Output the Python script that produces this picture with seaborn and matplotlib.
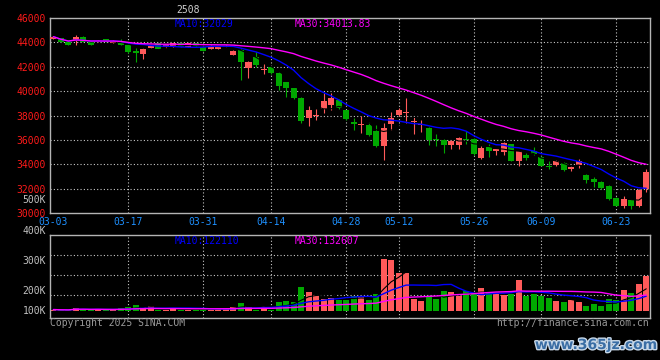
"""
2508 daily K-line (Sina style): candles + MA lines, volume panel below.
"""
import numpy as np
import pandas as pd
import matplotlib
matplotlib.use("Agg")
import matplotlib.pyplot as plt
import matplotlib.patheffects as pe
import seaborn as sns

# OHLC, 80 trading days 2025-03-03 .. 2025-06-27
opens = [44310, 44370, 44040, 44150, 44470, 44040, 44040, 44260, 43980, 44040,
         43770, 43280, 43060, 43560, 43930, 43610, 43650, 43930, 43650, 43930,
         43650, 43490, 43490, 43610, 43000, 43390, 41920, 42840, 41700, 42020,
         41480, 40710, 40220, 39460, 37770, 37940, 38540, 38870, 39300, 38430,
         37500, 37230, 37230, 36690, 35490, 37340, 38050, 38210, 37450, 37230,
         37010, 36060, 36030, 35540, 35600, 36060, 36090, 34510, 35380, 35050,
         35000, 35650, 34240, 34780, 35110, 34620, 33850, 33970, 34130, 33580,
         33910, 33090, 32760, 32550, 32220, 31240, 30580, 31070, 30580, 31950]
highs = [44520, 44400, 44060, 44590, 44500, 44080, 44200, 44300, 44220, 44250,
         43820, 43520, 43550, 43800, 43980, 43820, 43980, 43970, 43980, 43960,
         43700, 43760, 43650, 43750, 43380, 43430, 42460, 43220, 42190, 42060,
         41590, 40760, 40260, 39500, 38750, 38570, 39850, 39850, 39380, 38480,
         37830, 37990, 37450, 37180, 37400, 38260, 38650, 39410, 37890, 37670,
         37060, 36520, 36080, 36030, 36200, 36690, 36130, 35490, 35650, 35320,
         35810, 35700, 35100, 34950, 35380, 34660, 34260, 34350, 34170, 33850,
         34400, 33200, 32990, 32600, 32260, 31290, 31400, 31120, 31950, 33600]
lows = [44280, 44000, 43790, 43770, 44000, 43800, 44000, 44020, 43950, 43750,
        43130, 42430, 42630, 43500, 43450, 43560, 43600, 43610, 43620, 43680,
        43300, 43450, 43450, 43580, 42950, 40880, 41040, 42020, 41370, 41440,
        40060, 39520, 39380, 37400, 37120, 37670, 38240, 38480, 38500, 37650,
        36850, 36580, 36320, 35450, 34340, 36790, 38000, 37400, 36470, 36630,
        35540, 35490, 34950, 35220, 35220, 35650, 34790, 34400, 34620, 34730,
        34780, 34250, 33850, 34340, 34760, 33830, 33580, 33850, 33480, 33420,
        33690, 32500, 32170, 32000, 31090, 30540, 30420, 30310, 30500, 31700]
closes = [44470, 44040, 43820, 44470, 44040, 43820, 44150, 44040, 44150, 43770,
          43170, 43120, 43490, 43710, 43490, 43770, 43930, 43650, 43930, 43710,
          43330, 43710, 43610, 43710, 43330, 42350, 42350, 42140, 41810, 41480,
          40450, 40220, 39410, 37560, 38480, 38080, 39190, 39410, 38590, 37720,
          37280, 37300, 36360, 35490, 37010, 37830, 38480, 38320, 37560, 37280,
          35980, 36000, 35540, 35870, 36140, 36000, 34830, 35320, 35050, 35270,
          35710, 34290, 35050, 34510, 34830, 33870, 33800, 34290, 33520, 33800,
          34290, 32710, 32550, 32050, 31130, 30580, 31130, 30580, 31870, 33360]
volumes = [12000, 8000, 8000, 29000, 17000, 8000, 17000, 8000, 10000, 22000,
           33000, 50000, 33000, 42000, 12000, 12000, 25000, 8000, 12000, 8000,
           22000, 12000, 25000, 25000, 33000, 66000, 42000, 12000, 42000, 12000,
           75000, 83000, 75000, 199000, 158000, 129000, 100000, 105000, 94000, 94000,
           122000, 127000, 89000, 139000, 432000, 421000, 315000, 315000, 100000, 83000,
           122000, 100000, 166000, 155000, 122000, 166000, 155000, 188000, 155000, 139000,
           133000, 139000, 255000, 127000, 139000, 127000, 105000, 83000, 72000, 89000,
           72000, 39000, 56000, 44000, 100000, 89000, 172000, 149000, 222000, 288000]

tick_pos = [0, 10, 20, 29, 39, 46, 56, 65, 75]
tick_labels = ["03-03", "03-17", "03-31", "04-14", "04-28", "05-12", "05-26", "06-09", "06-23"]
price_ticks = [30000, 32000, 34000, 36000, 38000, 40000, 42000, 44000, 46000]
vol_labels = ["400K", "300K", "200K", "100K"]

RED = "#FF5A5A"
GREEN = "#00A800"
GRID = "#C8C8C8"
FRAME = "#B4B4B4"

sns.set_theme(style="dark", rc={"axes.facecolor": "black", "figure.facecolor": "black"})
plt.rcParams["font.family"] = ["DejaVu Sans Mono"]

df = pd.DataFrame({"open": opens, "high": highs, "low": lows,
                   "close": closes, "volume": volumes})
df["idx"] = np.arange(len(df))
df["up"] = df["close"] >= df["open"]
for n in (5, 10, 30):
    df[f"ma{n}"] = df["close"].rolling(n, min_periods=1).mean()
    df[f"vma{n}"] = df["volume"].rolling(n, min_periods=1).mean()
colors = np.where(df["up"], RED, GREEN)

fig = plt.figure(figsize=(6.6, 3.6), dpi=100)
fig.patch.set_facecolor("black")
ax = fig.add_axes([50 / 660, 1 - 213 / 360, 600 / 660, 195 / 360])
axv = fig.add_axes([50 / 660, 1 - 318 / 360, 600 / 660, 83.3 / 360])

dot = (0, (1, 2))
for a in (ax, axv):
    a.set_facecolor("black")
    a.grid(False)
    for s in a.spines.values():
        s.set_color(FRAME)
        s.set_linewidth(1)
    for p in tick_pos[1:]:
        a.axvline(p, color=GRID, lw=0.8, ls=dot, zorder=0)
    a.set_xlim(-0.45, 79.5)
    a.tick_params(length=0)

# --- price panel
for yv in price_ticks[1:-1]:
    ax.axhline(yv, color=GRID, lw=0.8, ls=dot, zorder=0)

ax.vlines(df["idx"], df["low"], df["high"], colors=colors, lw=0.8, zorder=2)
body_lo = df[["open", "close"]].min(axis=1)
body_h = (df["close"] - df["open"]).abs().clip(lower=90)
ax.bar(df["idx"], body_h, bottom=body_lo, width=0.8, color=colors, linewidth=0, zorder=3)

sns.lineplot(x=df["idx"], y=df["ma5"], color="black", lw=0.8, ax=ax, zorder=4)
sns.lineplot(x=df["idx"], y=df["ma10"], color="#0000FF", lw=1, ax=ax, zorder=4)
sns.lineplot(x=df["idx"], y=df["ma30"], color="#FF00FF", lw=1, ax=ax, zorder=4)

ax.set_ylim(30000, 46000)
ax.set_yticks(price_ticks)
ax.set_yticklabels([str(v) for v in price_ticks], color="#FF1A1A", fontsize=7)
ax.set_xticks(tick_pos)
ax.set_xticklabels(tick_labels, color="#1E90FF", fontsize=7)
ax.tick_params(axis="y", pad=3)
ax.tick_params(axis="x", pad=3)
ax.set_xlabel("")
ax.set_ylabel("")

ax.text(125 / 600, 1 - 6 / 195, "MA10:32029", color="#0000FF", fontsize=7,
        transform=ax.transAxes, va="center")
ax.text(245 / 600, 1 - 6 / 195, "MA30:34013.83", color="#FF00FF", fontsize=7,
        transform=ax.transAxes, va="center")

# --- volume panel
axv.bar(df["idx"], df["volume"], width=0.8, color=colors, linewidth=0, zorder=2)
sns.lineplot(x=df["idx"], y=df["vma5"], color="black", lw=0.8, ax=axv, zorder=4)
sns.lineplot(x=df["idx"], y=df["vma10"], color="#0000FF", lw=1, ax=axv, zorder=4)
sns.lineplot(x=df["idx"], y=df["vma30"], color="#FF00FF", lw=1, ax=axv, zorder=4)
axv.set_ylim(-58000, 633000)
for yv in (133000, 299000, 465000):
    axv.axhline(yv, color=GRID, lw=0.8, ls=dot, zorder=0)
axv.set_xticks([])
axv.set_yticks([])
axv.set_xlabel("")
axv.set_ylabel("")
axv.text(125 / 600, 1 - 6 / 83.3, "MA10:122110", color="#0000FF", fontsize=7,
         transform=axv.transAxes, va="center")
axv.text(245 / 600, 1 - 6 / 83.3, "MA30:132607", color="#FF00FF", fontsize=7,
         transform=axv.transAxes, va="center")

# volume axis labels as drawn by the source chart
for lab, ypx in zip(vol_labels, (231, 261, 291, 311)):
    fig.text(46 / 660, 1 - ypx / 360, lab, color="#C0C0C0", fontsize=7, ha="right", va="center")
fig.text(46 / 660, 1 - 200 / 360, "500K", color="#C0C0C0", fontsize=7, ha="right", va="center")

fig.text(188 / 660, 1 - 10 / 360, "2508", color="#D0D0D0", fontsize=7, ha="center", va="center")
fig.text(50 / 660, 1 - 323 / 360, "Copyright 2025 SINA.COM", color="#9A9A9A",
         fontsize=7, ha="left", va="center")
fig.text(649 / 660, 1 - 323 / 360, "http://finance.sina.com.cn", color="#9A9A9A",
         fontsize=7, ha="right", va="center")
fig.text(596 / 660, 1 - 345 / 360, "www.365jz.com", color="#3A6EA5", fontsize=10,
         fontweight="bold", ha="center", va="center", family=["DejaVu Sans"],
         path_effects=[pe.withStroke(linewidth=2, foreground="#C8D8E8")])

fig.savefig("out.png", dpi=100, facecolor="black")
